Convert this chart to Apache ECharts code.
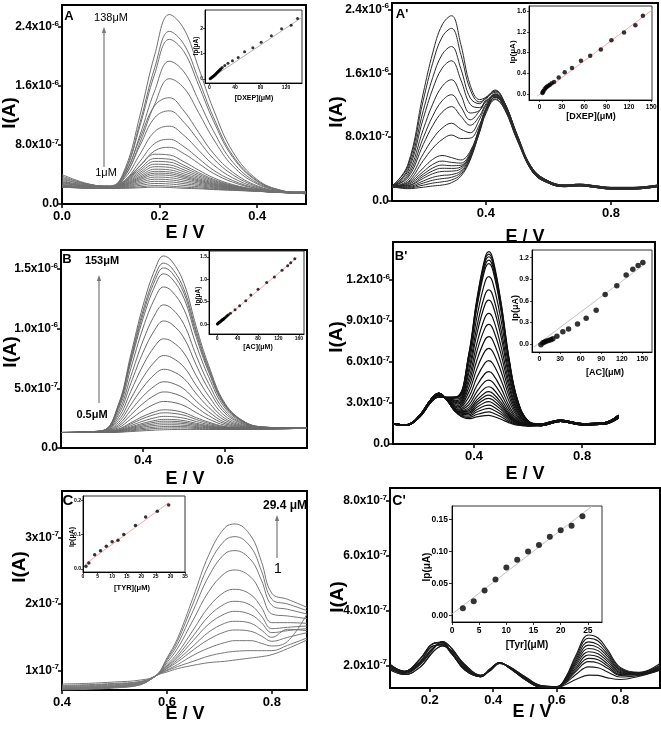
<!DOCTYPE html>
<html><head><meta charset="utf-8">
<script src="https://cdn.jsdelivr.net/npm/echarts@6/dist/echarts.min.js"></script>
<style>html,body{margin:0;padding:0;background:#fff}#c{width:661px;height:729px}</style>
</head><body><div id="c"></div>
<script>
// ---------- Panel A (DXEP, I in 1e-7 A) ----------
const eA = [0, 0.05, 0.1, 0.13, 0.16, 0.19, 0.22, 0.25, 0.28, 0.31, 0.35, 0.4, 0.45, 0.5];
const iA = [
[3.0,2.6,2.34,4.93,12.08,20.24,25.71,23.74,18.46,12.89,7.08,3.31,1.84,1.45],
[3.3,2.7,2.32,4.65,11.11,18.49,23.43,21.65,16.87,11.83,6.57,3.15,1.81,1.5],
[3.6,2.75,2.31,4.52,10.65,17.66,22.34,20.65,16.11,11.33,6.33,3.08,1.8,1.4],
[4.0,2.8,2.28,4.16,9.39,15.38,19.37,17.92,14.04,9.95,5.67,2.88,1.76,1.55],
[3.8,2.7,2.25,3.87,8.38,13.55,17.0,15.73,12.39,8.84,5.14,2.72,1.73,1.45],
[3.5,2.6,2.48,4.32,8.93,13.34,14.42,12.61,9.71,6.89,4.32,2.46,1.68,1.6],
[3.2,2.5,2.42,3.99,7.94,11.72,12.64,11.08,8.6,6.17,3.96,2.35,1.66,1.45],
[3.0,2.45,2.36,3.62,6.79,9.83,10.56,9.3,7.29,5.33,3.54,2.22,1.64,1.7],
[2.9,2.4,2.31,3.29,5.8,8.21,8.78,7.77,6.18,4.61,3.18,2.11,1.62,1.5],
[2.8,2.4,2.27,3.09,5.19,7.22,7.69,6.83,5.5,4.17,2.96,2.05,1.61,1.4],
[2.7,2.35,2.35,3.28,5.19,6.75,6.65,5.72,4.6,3.57,2.63,1.95,1.6,1.55],
[2.6,2.3,2.32,3.13,4.8,6.17,6.08,5.25,4.27,3.36,2.53,1.92,1.59,1.45],
[2.55,2.3,2.3,3.03,4.54,5.78,5.69,4.94,4.05,3.22,2.46,1.9,1.59,1.65],
[2.5,2.28,2.28,2.93,4.28,5.4,5.31,4.63,3.83,3.08,2.4,1.88,1.59,1.5],
[2.5,2.27,2.26,2.84,4.05,5.06,4.97,4.36,3.63,2.95,2.34,1.86,1.58,1.4],
[2.45,2.25,2.24,2.75,3.82,4.72,4.64,4.08,3.44,2.83,2.28,1.84,1.58,1.55],
[2.45,2.25,2.23,2.68,3.63,4.43,4.35,3.85,3.28,2.73,2.23,1.83,1.58,1.45],
[2.4,2.22,2.21,2.61,3.46,4.18,4.11,3.66,3.14,2.64,2.18,1.81,1.57,1.6],
[2.4,2.22,2.2,2.55,3.3,3.94,3.87,3.46,3.0,2.55,2.14,1.8,1.57,1.5],
[2.4,2.2,2.19,2.48,3.11,3.65,3.58,3.23,2.84,2.45,2.09,1.79,1.57,1.4],
[2.35,2.2,2.17,2.4,2.91,3.36,3.29,2.99,2.67,2.34,2.04,1.77,1.56,1.55],
[2.35,2.18,2.16,2.33,2.72,3.07,3.01,2.76,2.51,2.24,1.99,1.76,1.56,1.45],
[2.3,2.18,2.14,2.25,2.52,2.78,2.72,2.52,2.34,2.13,1.94,1.74,1.56,1.5],
[2.3,2.15,2.13,2.18,2.33,2.49,2.43,2.29,2.18,2.03,1.89,1.73,1.55,1.4],
[2.3,2.15,2.12,2.13,2.2,2.29,2.24,2.13,2.07,1.96,1.85,1.72,1.55,1.45]
];
const concA = [1,2,3,4,5,6,7,8,9,10,11,12,13,14,15,16,17,18,20,24,29,36,45,55,68,81,97,113,128,138];
const ipA = [0.01,0.03,0.05,0.07,0.09,0.11,0.13,0.15,0.18,0.2,0.22,0.25,0.27,0.3,0.32,0.35,0.37,0.4,0.45,0.53,0.62,0.72,0.85,1.07,1.23,1.45,1.7,1.98,2.12,2.38];
const fitAx = [0, 145], fitAy = [-0.01, 2.43];

// ---------- Panel A' ----------
const eA2 = [0.1,0.15,0.2,0.23,0.26,0.29,0.32,0.35,0.38,0.4,0.43,0.46,0.5,0.55,0.6,0.65,0.7,0.75,0.8,0.87,0.95];
const iA2 = [
[1.8,4.48,13.53,18.53,22.04,23.21,19.6,14.5,12.7,13.0,13.9,12.3,8.1,3.8,2.39,1.9,2.0,1.8,1.6,1.6,1.9],
[1.9,4.26,12.63,17.26,20.52,21.62,18.36,13.95,12.4,12.9,13.8,12.3,8.2,3.6,2.25,1.8,1.9,1.7,1.5,1.5,1.8],
[1.7,3.94,11.34,15.45,18.33,19.35,16.56,12.91,12.19,12.93,13.6,11.96,7.94,4.0,2.5,2.0,2.1,1.9,1.7,1.7,2.0],
[1.85,3.68,10.34,14.02,16.62,17.56,15.16,12.1,11.7,12.45,13.17,11.65,7.7,3.7,2.3,1.85,2.05,1.75,1.55,1.55,1.95],
[1.8,3.35,8.99,12.13,14.34,15.19,13.29,11.02,11.35,12.51,13.4,11.92,7.94,3.8,2.39,1.9,2.0,1.8,1.6,1.6,1.9],
[1.75,3.08,7.93,10.63,12.54,13.31,11.8,10.17,11.3,12.7,13.75,12.3,8.3,4.0,2.5,2.0,2.1,1.9,1.7,1.7,2.0],
[1.9,2.87,7.09,9.44,11.11,11.82,10.63,9.49,10.67,12.17,13.29,11.89,7.94,3.6,2.25,1.8,1.9,1.7,1.5,1.5,1.8],
[1.8,2.58,5.91,7.78,9.12,9.74,9.0,8.55,10.25,11.96,13.23,11.87,7.94,3.7,2.3,1.85,2.05,1.75,1.55,1.55,1.95],
[1.85,2.37,5.07,6.6,7.69,8.26,7.83,7.87,9.6,11.4,12.8,11.45,7.6,3.6,2.25,1.8,1.9,1.7,1.5,1.5,1.8],
[1.8,2.28,4.14,5.21,5.7,5.44,5.14,6.25,9.18,11.39,13.04,11.79,7.94,3.8,2.39,1.9,2.0,1.8,1.6,1.6,1.9],
[1.7,2.14,3.68,4.58,5.0,4.84,4.75,6.04,9.09,11.35,13.03,11.79,7.94,4.0,2.5,2.0,2.1,1.9,1.7,1.7,2.0],
[1.8,2.04,3.36,4.13,4.5,4.42,4.48,5.89,9.3,11.6,13.35,12.1,8.2,3.7,2.3,1.85,2.05,1.75,1.55,1.55,1.95],
[1.9,1.96,3.1,3.77,4.1,4.08,4.26,5.77,8.99,11.31,13.02,11.79,7.94,3.8,2.39,1.9,2.0,1.8,1.6,1.6,1.9],
[1.8,1.88,2.84,3.41,3.7,3.74,4.04,5.65,8.94,11.29,13.02,11.79,7.94,3.6,2.25,1.8,1.9,1.7,1.5,1.5,1.8],
[1.75,1.78,2.51,2.96,3.2,3.31,3.76,5.5,8.6,10.95,12.7,11.5,7.7,3.7,2.3,1.85,2.05,1.75,1.55,1.55,1.95],
[1.8,1.7,2.25,2.6,2.8,2.97,3.54,5.38,8.83,11.24,13.01,11.79,7.94,4.0,2.5,2.0,2.1,1.9,1.7,1.7,2.0],
[1.85,1.62,1.99,2.24,2.4,2.63,3.32,5.26,9.2,11.6,13.4,12.2,8.3,3.8,2.39,1.9,2.0,1.8,1.6,1.6,1.9],
[1.8,1.54,1.73,1.88,2.0,2.29,3.1,5.14,8.73,11.2,13.0,11.79,7.94,3.6,2.25,1.8,1.9,1.7,1.5,1.5,1.8]
];
const concA2 = [4,4.5,5.5,7,8.5,10,12,14,16.5,19.6,25.9,33.9,43.7,55.7,68.1,82.4,96.6,113.5,128.7,138.8];
const ipA2 = [0.02,0.04,0.06,0.09,0.12,0.14,0.16,0.18,0.21,0.23,0.32,0.42,0.5,0.64,0.74,0.86,1.04,1.19,1.33,1.51];
const fitA2x = [-3, 152], fitA2y = [-0.04, 1.63];

// ---------- Panel B (AC) ----------
const eB = [0.2,0.3,0.34,0.37,0.4,0.43,0.45,0.47,0.5,0.53,0.56,0.6,0.65,0.7,0.8];
const iB = [
[1.3,1.45,3.65,7.79,11.93,15.05,16.1,15.68,13.8,10.15,6.94,3.74,2.16,1.75,1.65],
[1.3,1.44,3.56,7.52,11.5,14.49,15.5,15.1,13.29,9.8,6.72,3.65,2.13,1.74,1.65],
[1.3,1.44,3.49,7.35,11.21,14.12,15.1,14.71,12.96,9.56,6.57,3.59,2.12,1.74,1.65],
[1.3,1.43,3.41,7.13,10.85,13.66,14.6,14.22,12.54,9.27,6.38,3.51,2.1,1.73,1.65],
[1.3,1.42,3.24,6.64,10.06,12.63,13.5,13.16,11.61,8.62,5.98,3.35,2.05,1.72,1.65],
[1.3,1.41,3.0,5.98,8.98,11.24,12.0,11.7,10.35,7.73,5.42,3.12,1.99,1.71,1.65],
[1.3,1.39,2.78,5.39,8.01,9.98,10.65,10.39,9.22,6.94,4.92,2.92,1.94,1.69,1.65],
[1.3,1.38,2.54,4.73,6.93,8.59,9.15,8.94,7.96,6.05,4.37,2.69,1.88,1.68,1.65],
[1.3,1.36,2.32,4.11,5.92,7.29,7.75,7.58,6.78,5.23,3.85,2.48,1.82,1.66,1.65],
[1.3,1.35,2.13,3.61,5.09,6.22,6.6,6.46,5.82,4.55,3.42,2.31,1.78,1.65,1.65],
[1.3,1.34,1.96,3.15,4.34,5.24,5.55,5.45,4.94,3.93,3.04,2.15,1.74,1.64,1.65],
[1.3,1.33,1.83,2.77,3.73,4.45,4.7,4.62,4.22,3.43,2.72,2.03,1.7,1.63,1.65],
[1.3,1.33,1.7,2.42,3.15,3.71,3.9,3.85,3.55,2.96,2.43,1.91,1.67,1.63,1.65],
[1.3,1.32,1.59,2.11,2.65,3.05,3.2,3.17,2.96,2.54,2.17,1.8,1.64,1.62,1.65],
[1.3,1.32,1.55,2.0,2.47,2.82,2.95,2.92,2.75,2.39,2.07,1.76,1.63,1.62,1.65],
[1.3,1.31,1.5,1.87,2.25,2.54,2.65,2.63,2.5,2.22,1.96,1.72,1.62,1.61,1.65],
[1.3,1.31,1.46,1.76,2.07,2.31,2.4,2.39,2.29,2.07,1.87,1.68,1.61,1.61,1.65],
[1.3,1.31,1.44,1.69,1.96,2.17,2.25,2.24,2.16,1.98,1.81,1.66,1.6,1.61,1.65],
[1.3,1.31,1.41,1.63,1.85,2.03,2.1,2.1,2.04,1.89,1.76,1.64,1.6,1.61,1.65],
[1.3,1.31,1.39,1.56,1.75,1.89,1.95,1.95,1.91,1.8,1.7,1.61,1.59,1.61,1.65],
[1.3,1.3,1.36,1.5,1.64,1.75,1.8,1.81,1.79,1.72,1.65,1.59,1.59,1.6,1.65],
[1.3,1.3,1.34,1.44,1.54,1.63,1.67,1.68,1.68,1.64,1.6,1.57,1.58,1.6,1.65],
[1.3,1.3,1.32,1.38,1.44,1.5,1.53,1.55,1.56,1.56,1.55,1.55,1.57,1.6,1.65]
];
const concB = [0.5,1,2,3,4,5,6,7,8,9,10,11,12,13,14,16,18,20,22,26,35,44,56,66,80,97,112,127,138,144,152];
const ipB = [0.005,0.01,0.02,0.03,0.04,0.05,0.055,0.065,0.075,0.085,0.095,0.1,0.11,0.12,0.13,0.15,0.17,0.19,0.21,0.245,0.32,0.41,0.52,0.65,0.78,0.93,1.05,1.2,1.3,1.37,1.46];
const fitBx = [0, 156], fitBy = [-0.02, 1.48];

// ---------- Panel B' ----------
const eB2 = [0.1,0.15,0.2,0.24,0.27,0.3,0.34,0.38,0.41,0.44,0.455,0.47,0.5,0.53,0.56,0.6,0.65,0.72,0.8,0.88,0.935];
const iB2 = [
[1.5,1.41,2.0,3.05,3.45,3.42,3.5,6.51,10.54,13.57,14.07,13.52,10.37,6.21,3.3,1.69,1.4,1.7,1.45,1.5,2.0],
[1.5,1.41,2.0,3.05,3.45,3.41,3.48,6.45,10.41,13.41,13.9,13.36,10.24,6.15,3.27,1.68,1.35,1.65,1.4,1.45,1.9],
[1.5,1.41,2.0,3.05,3.45,3.41,3.46,6.37,10.27,13.22,13.7,13.17,10.1,6.07,3.24,1.68,1.45,1.75,1.5,1.55,2.1],
[1.5,1.41,2.0,3.05,3.45,3.41,3.43,6.28,10.1,12.99,13.46,12.94,9.93,5.98,3.2,1.67,1.4,1.7,1.45,1.5,2.0],
[1.5,1.41,2.0,3.05,3.45,3.4,3.41,6.17,9.91,12.74,13.2,12.69,9.74,5.87,3.16,1.66,1.35,1.65,1.4,1.45,1.9],
[1.5,1.41,2.08,3.18,3.6,3.38,3.3,5.8,9.23,11.81,12.24,11.76,9.06,5.5,3.0,1.63,1.45,1.75,1.5,1.55,2.1],
[1.5,1.41,2.08,3.18,3.6,3.36,3.19,5.42,8.53,10.88,11.27,10.83,8.36,5.12,2.85,1.6,1.4,1.7,1.45,1.5,2.0],
[1.5,1.41,2.08,3.18,3.6,3.35,3.11,5.13,8.0,10.17,10.53,10.12,7.83,4.83,2.73,1.58,1.35,1.65,1.4,1.45,1.9],
[1.5,1.41,2.08,3.18,3.6,3.33,3.01,4.75,7.31,9.24,9.56,9.19,7.14,4.45,2.57,1.55,1.45,1.75,1.5,1.55,2.1],
[1.5,1.41,2.08,3.18,3.6,3.32,2.92,4.44,6.73,8.46,8.75,8.41,6.56,4.14,2.44,1.52,1.4,1.7,1.45,1.5,2.0],
[1.5,1.41,2.08,3.18,3.6,3.3,2.82,4.09,6.09,7.6,7.85,7.55,5.92,3.79,2.3,1.49,1.35,1.65,1.4,1.45,1.9],
[1.5,1.41,2.08,3.18,3.6,3.28,2.72,3.76,5.48,6.78,7.0,6.73,5.31,3.46,2.16,1.47,1.45,1.75,1.5,1.55,2.1],
[1.45,1.38,2.12,3.25,3.7,3.27,2.63,3.41,4.84,5.92,6.1,5.87,4.67,3.11,2.02,1.44,1.4,1.7,1.45,1.5,2.0],
[1.45,1.38,2.12,3.25,3.7,3.25,2.54,3.09,4.26,5.14,5.29,5.09,4.09,2.79,1.89,1.41,1.35,1.65,1.4,1.45,1.9],
[1.45,1.38,2.12,3.25,3.7,3.24,2.47,2.85,3.82,4.56,4.68,4.51,3.65,2.55,1.79,1.4,1.45,1.75,1.5,1.55,2.1],
[1.45,1.38,2.12,3.25,3.7,3.23,2.41,2.66,3.47,4.09,4.19,4.04,3.3,2.36,1.71,1.38,1.4,1.7,1.45,1.5,2.0],
[1.45,1.38,2.12,3.25,3.7,3.22,2.38,2.52,3.21,3.74,3.83,3.69,3.04,2.22,1.66,1.37,1.35,1.65,1.4,1.45,1.9],
[1.45,1.38,2.12,3.25,3.7,3.22,2.35,2.42,3.04,3.5,3.58,3.45,2.87,2.12,1.62,1.36,1.45,1.75,1.5,1.55,2.1],
[1.45,1.38,2.12,3.25,3.7,3.21,2.32,2.33,2.86,3.27,3.34,3.22,2.69,2.03,1.58,1.35,1.4,1.7,1.45,1.5,2.0],
[1.45,1.38,2.12,3.25,3.7,3.21,2.3,2.24,2.69,3.04,3.1,2.99,2.52,1.94,1.54,1.35,1.35,1.65,1.4,1.45,1.9],
[1.45,1.38,2.12,3.25,3.7,3.2,2.27,2.14,2.51,2.8,2.85,2.75,2.34,1.84,1.5,1.34,1.45,1.75,1.5,1.55,2.1],
[1.45,1.38,2.12,3.25,3.7,3.2,2.24,2.04,2.34,2.56,2.6,2.51,2.17,1.74,1.46,1.33,1.4,1.7,1.45,1.5,2.0],
[1.45,1.38,2.12,3.25,3.7,3.19,2.21,1.94,2.16,2.32,2.35,2.27,1.99,1.64,1.42,1.32,1.35,1.65,1.4,1.45,1.9],
[1.45,1.38,2.12,3.25,3.7,3.19,2.19,1.85,1.98,2.08,2.1,2.03,1.81,1.55,1.38,1.32,1.45,1.75,1.5,1.55,2.1]
];
const concB2 = [2,4.9,7.3,9.7,13.1,16.5,19.4,25.3,34,42.3,55.4,68,82.6,95.7,112.7,126.3,136,143.8,150.6];
const ipB2 = [-0.01,0.02,0.03,0.04,0.05,0.06,0.075,0.11,0.17,0.21,0.28,0.36,0.47,0.69,0.81,0.96,1.04,1.09,1.135];
const fitB2x = [-8, 156], fitB2y = [-0.04, 1.13];

// ---------- Panel C (TYR) ----------
const eC = [0.4,0.45,0.5,0.55,0.58,0.6,0.62,0.65,0.68,0.71,0.73,0.76,0.78,0.8,0.83,0.867];
const iC = [
[0.76,0.77,0.79,0.83,0.93,1.19,1.48,2.1,2.74,3.14,3.2,3.02,2.64,2.16,2.07,1.95],
[0.74,0.75,0.77,0.82,0.93,1.17,1.44,2.01,2.59,2.95,3.01,2.85,2.5,2.07,2.0,1.9],
[0.8,0.81,0.83,0.86,0.93,1.15,1.39,1.9,2.42,2.75,2.8,2.66,2.36,1.98,1.92,1.85],
[0.73,0.74,0.76,0.81,0.93,1.12,1.33,1.76,2.19,2.46,2.51,2.4,2.15,1.85,1.82,1.78],
[0.78,0.79,0.81,0.84,0.93,1.09,1.26,1.61,1.96,2.18,2.22,2.14,1.95,1.72,1.72,1.71],
[0.72,0.73,0.75,0.8,0.93,1.07,1.22,1.52,1.82,2.0,2.04,1.98,1.82,1.63,1.65,1.67],
[0.75,0.76,0.78,0.82,0.93,1.06,1.19,1.45,1.7,1.85,1.89,1.84,1.72,1.57,1.6,1.63],
[0.71,0.72,0.74,0.79,0.93,1.04,1.16,1.37,1.58,1.71,1.74,1.71,1.61,1.5,1.62,1.6],
[0.77,0.78,0.8,0.83,0.93,1.03,1.13,1.31,1.47,1.58,1.61,1.59,1.52,1.44,1.5,1.57],
[0.73,0.74,0.76,0.8,0.93,1.01,1.09,1.23,1.34,1.42,1.45,1.45,1.41,1.37,1.44,1.85],
[0.74,0.75,0.77,0.81,0.93,1.0,1.06,1.14,1.22,1.27,1.29,1.3,1.3,1.3,1.38,1.49],
[0.72,0.73,0.75,0.79,0.93,0.98,1.03,1.08,1.12,1.14,1.16,1.19,1.21,1.24,1.33,1.46]
];
const concC = [1,2,4,6,8,10,12,14,18,21.5,25.5,29.4];
const ipC = [0.008,0.017,0.041,0.053,0.066,0.079,0.083,0.1,0.126,0.151,0.168,0.186];
const fitCx = [0.8, 29.5], fitCy = [0.014, 0.193];

// ---------- Panel C' ----------
const eC2 = [0.075,0.12,0.17,0.21,0.24,0.27,0.31,0.36,0.39,0.42,0.45,0.5,0.55,0.6,0.63,0.66,0.7,0.73,0.76,0.8,0.86,0.925];
const iC2 = [
[2.05,1.8,2.25,2.8,2.85,2.45,1.85,1.6,1.88,2.12,1.93,1.5,1.22,1.2,1.62,2.37,3.12,3.01,2.58,1.94,1.76,2.08],
[1.85,1.68,1.95,2.5,2.72,2.55,2.05,1.65,1.82,2.08,1.97,1.6,1.28,1.24,1.6,2.3,3.0,2.9,2.5,1.9,1.75,2.02],
[1.9,1.72,2.05,2.6,2.88,2.62,2.0,1.6,1.84,2.1,1.96,1.56,1.24,1.2,1.57,2.22,2.87,2.77,2.41,1.86,1.74,1.98],
[2.0,1.78,2.15,2.72,2.76,2.42,1.9,1.64,1.86,2.11,1.94,1.52,1.26,1.23,1.55,2.15,2.75,2.66,2.33,1.83,1.73,1.95],
[1.95,1.75,2.1,2.65,2.8,2.5,1.95,1.62,1.85,2.1,1.95,1.55,1.25,1.22,1.53,2.08,2.63,2.55,2.24,1.79,1.71,1.93],
[2.05,1.8,2.25,2.8,2.85,2.45,1.85,1.6,1.88,2.12,1.93,1.5,1.22,1.2,1.5,2.01,2.51,2.44,2.16,1.75,1.7,1.9],
[1.85,1.68,1.95,2.5,2.72,2.55,2.05,1.65,1.82,2.08,1.97,1.6,1.28,1.24,1.48,1.93,2.39,2.33,2.07,1.72,1.69,1.9],
[1.9,1.72,2.05,2.6,2.88,2.62,2.0,1.6,1.84,2.1,1.96,1.56,1.24,1.2,1.45,1.86,2.27,2.22,1.99,1.68,1.68,1.88],
[2.0,1.78,2.15,2.72,2.76,2.42,1.9,1.64,1.86,2.11,1.94,1.52,1.26,1.23,1.43,1.79,2.15,2.1,1.91,1.65,1.67,1.86],
[1.95,1.75,2.1,2.65,2.8,2.5,1.95,1.62,1.85,2.1,1.95,1.55,1.25,1.22,1.39,1.68,1.96,1.93,1.77,1.59,1.65,1.85],
[2.05,1.8,2.25,2.8,2.85,2.45,1.85,1.6,1.88,2.12,1.93,1.5,1.22,1.2,1.33,1.5,1.66,1.65,1.56,1.5,1.62,1.84]
];
const concC2 = [2,4,6,8,10,12,14,16,18,20,22,24];
const ipC2 = [0.011,0.022,0.039,0.056,0.075,0.087,0.1,0.11,0.123,0.133,0.14,0.155];
const fitC2x = [0, 25.8], fitC2y = [0.002, 0.171];

// ---------- tick labels ----------
const tA = [0, 8, 16, 24], lA = ['0.0', '8.0x10{s|-7}', '1.6x10{s|-6}', '2.4x10{s|-6}'];
const tA2 = [0, 8, 16, 24], lA2 = lA;
const tB = [0, 5, 10, 15], lB = ['0.0', '5.0x10{s|-7}', '1.0x10{s|-6}', '1.5x10{s|-6}'];
const tB2 = [0, 3, 6, 9, 12], lB2 = ['0.0', '3.0x10{s|-7}', '6.0x10{s|-7}', '9.0x10{s|-7}', '1.2x10{s|-6}'];
const tC = [1, 2, 3], lC = ['1x10{s|-7}', '2x10{s|-7}', '3x10{s|-7}'];
const tC2 = [2, 4, 6, 8], lC2 = ['2.0x10{s|-7}', '4.0x10{s|-7}', '6.0x10{s|-7}', '8.0x10{s|-7}'];

// ---------- build ----------
const F = '"Liberation Sans", Arial, sans-serif';
const zip = (a, b) => a.map((v, i) => [v, b[i]]);
function near(ticks, labels) {
  return v => { let k = 0, d = Infinity; ticks.forEach((t, i) => { const dd = Math.abs(t - v); if (dd < d) { d = dd; k = i; } }); return labels[k]; };
}
function ax(gi, min, max, ticks, labels, o) {
  o = o || {};
  return {
    type: 'value', gridIndex: gi, min: min, max: max,
    axisLine: {show: true, onZero: false, lineStyle: {color: '#000', width: o.lw || 2}},
    axisTick: {show: true, customValues: ticks, length: o.tl || 4, inside: false, lineStyle: {color: '#000', width: o.tw || 1.5}},
    splitLine: {show: false},
    axisLabel: {show: true, customValues: ticks, formatter: near(ticks, labels), color: '#000', fontFamily: F,
      fontWeight: 'bold', fontSize: o.fs || 12, margin: o.m || 4, lineHeight: o.lh || 15,
      rich: {s: {fontSize: o.sfs || 8, fontWeight: 'bold', fontFamily: F, color: '#000', verticalAlign: 'top', lineHeight: 8}}}
  };
}
const fx = (t, d) => t.map(v => v.toFixed(d));

const grids = [
  {left: 62, top: 5, width: 244, height: 199},
  {left: 392, top: 3, width: 266, height: 198},
  {left: 61, top: 250, width: 246, height: 198},
  {left: 393, top: 242, width: 262, height: 202},
  {left: 62, top: 491, width: 245, height: 199},
  {left: 390, top: 488, width: 270, height: 200},
  {left: 205, top: 10, width: 97, height: 73},
  {left: 529, top: 6, width: 123, height: 94},
  {left: 209, top: 251, width: 95, height: 83},
  {left: 532, top: 250, width: 120, height: 102},
  {left: 83, top: 496, width: 102, height: 76},
  {left: 452, top: 506, width: 150, height: 116}
].map((g, i) => Object.assign(g, {show: true, borderColor: i < 6 ? '#000' : '#333', borderWidth: i < 6 ? 2 : 1,
  backgroundColor: i < 6 ? 'transparent' : '#fff', containLabel: false}));

const xTA = [0, 0.2, 0.4], xTA2 = [0.4, 0.8], xTB = [0.4, 0.6], xTB2 = [0.4, 0.8], xTC = [0.4, 0.6, 0.8], xTC2 = [0.2, 0.4, 0.6, 0.8];
const xm = {fs: 13, m: 5};
const xAxes = [
  ax(0, 0, 0.5, xTA, fx(xTA, 1), xm),
  ax(1, 0.1, 0.95, xTA2, fx(xTA2, 1), xm),
  ax(2, 0.2, 0.8, xTB, fx(xTB, 1), xm),
  ax(3, 0.1, 1.07, xTB2, fx(xTB2, 1), xm),
  ax(4, 0.4, 0.867, xTC, fx(xTC, 1), xm),
  ax(5, 0.075, 0.925, xTC2, fx(xTC2, 1), xm),
  ax(6, -7, 145, [0, 40, 80, 120], ['0', '40', '80', '120'], {fs: 5, lw: 1, tl: 2, tw: 0.7, m: 2, lh: 6}),
  ax(7, -14, 151, [0, 30, 60, 90, 120, 150], ['0', '30', '60', '90', '120', '150'], {fs: 6.5, lw: 1, tl: 2, tw: 0.7, m: 3, lh: 8}),
  ax(8, -16, 170, [0, 40, 80, 120, 160], ['0', '40', '80', '120', '160'], {fs: 5, lw: 1, tl: 2, tw: 0.7, m: 2, lh: 6}),
  ax(9, -11, 164, [0, 30, 60, 90, 120, 150], ['0', '30', '60', '90', '120', '150'], {fs: 7, lw: 1, tl: 2, tw: 0.7, m: 3, lh: 8}),
  ax(10, 0, 35, [0, 5, 10, 15, 20, 25, 30, 35], ['0', '5', '10', '15', '20', '25', '30', '35'], {fs: 5, lw: 1, tl: 2, tw: 0.7, m: 2, lh: 6}),
  ax(11, 0, 27.6, [0, 5, 10, 15, 20, 25], ['0', '5', '10', '15', '20', '25'], {fs: 8.5, lw: 1, tl: 3, tw: 0.8, m: 4, lh: 10})
];
const ym = {fs: 12, m: 3};
const yAxes = [
  ax(0, 0, 27, tA, lA, ym),
  ax(1, 0, 24.8, tA2, lA2, ym),
  ax(2, 0, 16.6, tB, lB, ym),
  ax(3, 0, 14.78, tB2, lB2, ym),
  ax(4, 0.71, 3.694, tC, lC, ym),
  ax(5, 1.19, 8.47, tC2, lC2, ym),
  ax(6, -0.16, 2.72, [0, 1, 2], ['0', '1', '2'], {fs: 5, lw: 1, tl: 2, tw: 0.7, m: 2, lh: 6}),
  ax(7, -0.116, 1.7, [0, 0.4, 0.8, 1.2, 1.6], ['0.0', '0.4', '0.8', '1.2', '1.6'], {fs: 6.5, lw: 1, tl: 2, tw: 0.7, m: 3, lh: 8}),
  ax(8, -0.22, 1.63, [0, 0.5, 1, 1.5], ['0.0', '0.5', '1.0', '1.5'], {fs: 5, lw: 1, tl: 2, tw: 0.7, m: 2, lh: 6}),
  ax(9, -0.11, 1.307, [0, 0.3, 0.6, 0.9, 1.2], ['0.0', '0.3', '0.6', '0.9', '1.2'], {fs: 7, lw: 1, tl: 2, tw: 0.7, m: 3, lh: 8}),
  ax(10, -0.009, 0.212, [0, 0.1, 0.2], ['0.0', '0.1', '0.2'], {fs: 5, lw: 1, tl: 2, tw: 0.7, m: 2, lh: 6}),
  ax(11, -0.0104, 0.171, [0, 0.05, 0.1, 0.15], ['0.00', '0.05', '0.10', '0.15'], {fs: 8.5, lw: 1, tl: 3, tw: 0.8, m: 4, lh: 10})
];

const series = [];
function curves(gi, xs, cs, color, w) {
  cs.forEach(c => series.push({type: 'line', xAxisIndex: gi, yAxisIndex: gi, data: zip(xs, c), smooth: 0.4,
    symbol: 'none', silent: true, lineStyle: {color: color, width: w}, z: 2}));
}
function inset(gi, cx, cy, fxs, fys, fitColor, size) {
  series.push({type: 'line', xAxisIndex: gi, yAxisIndex: gi, data: zip(fxs, fys), symbol: 'none', silent: true,
    lineStyle: {color: fitColor, width: 0.9}, z: 5});
  series.push({type: 'scatter', xAxisIndex: gi, yAxisIndex: gi, data: zip(cx, cy), symbol: 'circle', symbolSize: size,
    silent: true, itemStyle: {color: '#000'}, z: 6});
}
curves(0, eA, iA, '#707070', 1);
curves(1, eA2, iA2, '#2a2a2a', 1);
curves(2, eB, iB, '#6a6a6a', 1);
curves(3, eB2, iB2, '#111', 1.2);
curves(4, eC, iC, '#777', 1);
curves(5, eC2, iC2, '#1a1a1a', 1.1);
inset(6, concA, ipA, fitAx, fitAy, '#aaa', 3);
inset(7, concA2, ipA2, fitA2x, fitA2y, '#f2a0a0', 4.5);
inset(8, concB, ipB, fitBx, fitBy, '#f2a0a0', 3);
inset(9, concB2, ipB2, fitB2x, fitB2y, '#bbb', 5.5);
inset(10, concC, ipC, fitCx, fitCy, '#f2a0a0', 3.5);
inset(11, concC2, ipC2, fitC2x, fitC2y, '#bbb', 6);

function T(x, y, s, size, weight, rot) {
  return {type: 'text', x: x, y: y, rotation: rot || 0, z: 100,
    style: {text: s, x: 0, y: 0, align: 'center', verticalAlign: 'middle', font: (weight || 'bold') + ' ' + size + 'px ' + F, fill: '#000'}};
}
function arrow(x, y1, y2) {
  return [{type: 'line', z: 100, shape: {x1: x, y1: y1, x2: x, y2: y2 + 5}, style: {stroke: '#777', lineWidth: 1.2}},
          {type: 'polygon', z: 100, shape: {points: [[x - 2.2, y2 + 6], [x + 2.2, y2 + 6], [x, y2]]}, style: {fill: '#777'}}];
}
const R = Math.PI / 2;
const graphic = [
  T(10, 113, 'I(A)', 19, 'bold', R), T(337, 112, 'I(A)', 19, 'bold', R),
  T(11, 352, 'I(A)', 19, 'bold', R), T(337, 337, 'I(A)', 19, 'bold', R),
  T(20, 567, 'I(A)', 19, 'bold', R), T(338, 597, 'I(A)', 19, 'bold', R),
  T(185, 233, 'E / V', 18), T(525, 237, 'E / V', 18), T(185, 479, 'E / V', 18),
  T(525, 474, 'E / V', 18), T(185, 714, 'E / V', 18), T(532, 712, 'E / V', 18),
  T(69, 16, 'A', 13), T(402, 14, "A'", 13), T(67, 259, 'B', 13), T(401, 256, "B'", 13),
  T(68, 501, 'C', 15), T(399, 501, "C'", 14),
  T(111, 18, '138μM', 11, 'normal'), T(106, 173, '1μM', 11, 'normal'),
  T(102, 261, '153μM', 11), T(92, 415, '0.5μM', 11),
  T(285, 506, '29.4 μM', 12), T(278, 569, '1', 14, 'normal'),
  T(196, 46, 'Ip(μA)', 6.5, 'bold', R), T(254, 98, '[DXEP](μM)', 7),
  T(513, 52, 'Ip(μA)', 8, 'bold', R), T(591, 117, '[DXEP](μM)', 9),
  T(198, 296, 'Ip(μA)', 6.5, 'bold', R), T(258, 347, '[AC](μM)', 7),
  T(516, 308, 'Ip(μA)', 9, 'bold', R), T(605, 373, '[AC](μM)', 9),
  T(72, 537, 'Ip(μA)', 7, 'bold', R), T(132, 588, '[TYR](μM)', 7.5),
  T(427, 567, 'Ip(μA)', 10, 'bold', R), T(527, 645, '[Tyr](μM)', 10)
].concat(arrow(104, 167, 27), arrow(99, 403, 275), arrow(277, 558, 515));

const chart = echarts.init(document.getElementById('c'), null, {renderer: 'canvas'});
chart.setOption({animation: false, backgroundColor: '#fff', grid: grids, xAxis: xAxes, yAxis: yAxes, series: series, graphic: graphic});
</script></body></html>
